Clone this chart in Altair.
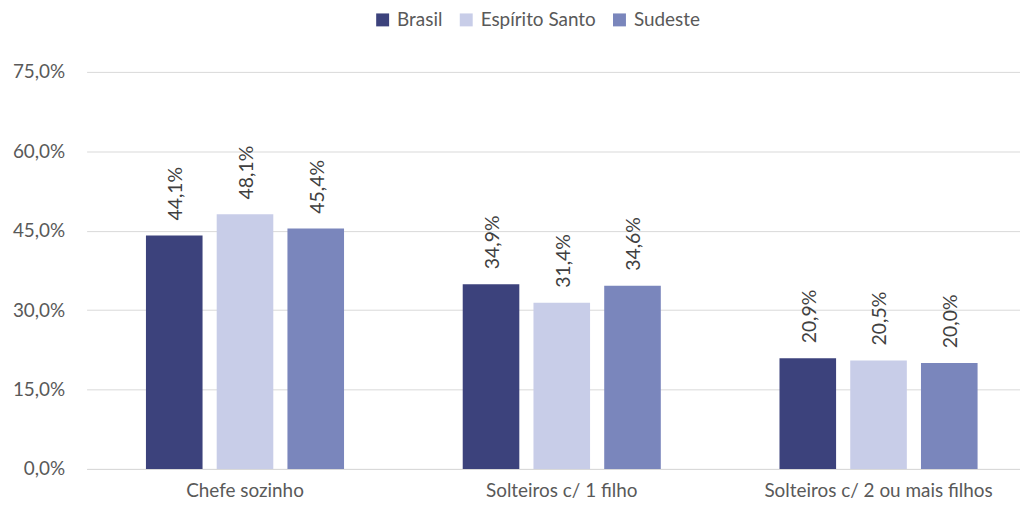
import altair as alt
import pandas as pd

categories = ["Chefe sozinho", "Solteiros c/ 1 filho", "Solteiros c/ 2 ou mais filhos"]
series = ["Brasil", "Espírito Santo", "Sudeste"]
brasil = [44.1, 34.9, 20.9]
espirito_santo = [48.1, 31.4, 20.5]
sudeste = [45.4, 34.6, 20.0]
colors = ["#3C427C", "#C8CDE8", "#7A86BC"]

rows = []
for s, vals in zip(series, [brasil, espirito_santo, sudeste]):
    for c, v in zip(categories, vals):
        rows.append({"categoria": c, "serie": s, "valor": v})
df = pd.DataFrame(rows)

FONT = "Lato"
FS = 19

base = alt.Chart(df).encode(
    x=alt.X("categoria:N", sort=categories, title=None,
            scale=alt.Scale(range=[2, 957], paddingInner=0.33, paddingOuter=0.165),
            axis=alt.Axis(labelAngle=0, ticks=False, domainColor="#D9D9D9", labelPadding=13,
                          labelFontSize=FS, labelColor="#595959", labelFont=FONT, grid=False,
                          labelLimit=500)),
    xOffset=alt.XOffset("serie:N", sort=series,
                        scale=alt.Scale(paddingInner=0.2, paddingOuter=0.1)),
)

bars = base.mark_bar().encode(
    y=alt.Y("valor:Q", title=None,
            scale=alt.Scale(domain=[0, 75], nice=False),
            axis=alt.Axis(values=[0, 15, 30, 45, 60, 75], ticks=False, domain=False,
                          gridColor="#D9D9D9", labelPadding=20, labelFontSize=FS,
                          labelColor="#595959", labelFont=FONT,
                          labelExpr="replace(format(datum.value, '.1f'), '.', ',') + '%'")),
    color=alt.Color("serie:N", sort=series,
                    scale=alt.Scale(domain=series, range=colors),
                    legend=alt.Legend(title=None, orient="none", direction="horizontal",
                                      legendX=290, legendY=-62, symbolType="square",
                                      symbolSize=169, symbolStrokeWidth=0,
                                      labelFontSize=FS, labelColor="#595959", labelFont=FONT,
                                      columnPadding=14, labelOffset=5)),
)

labels = base.transform_calculate(
    lbl="replace(format(datum.valor, '.1f'), '.', ',') + '%'"
).mark_text(angle=270, align="left", baseline="middle", dx=15, dy=2,
            fontSize=19.5, color="#404040", font=FONT).encode(
    y="valor:Q",
    text="lbl:N",
)

chart = (bars + labels).properties(
    width=930, height=399,
    autosize=alt.AutoSizeParams(type="none"),
    padding={"left": 77, "top": 63, "right": 10, "bottom": 30},
).configure_view(stroke=None)

chart.save("out.html", embed_options={"renderer": "svg", "actions": False})
